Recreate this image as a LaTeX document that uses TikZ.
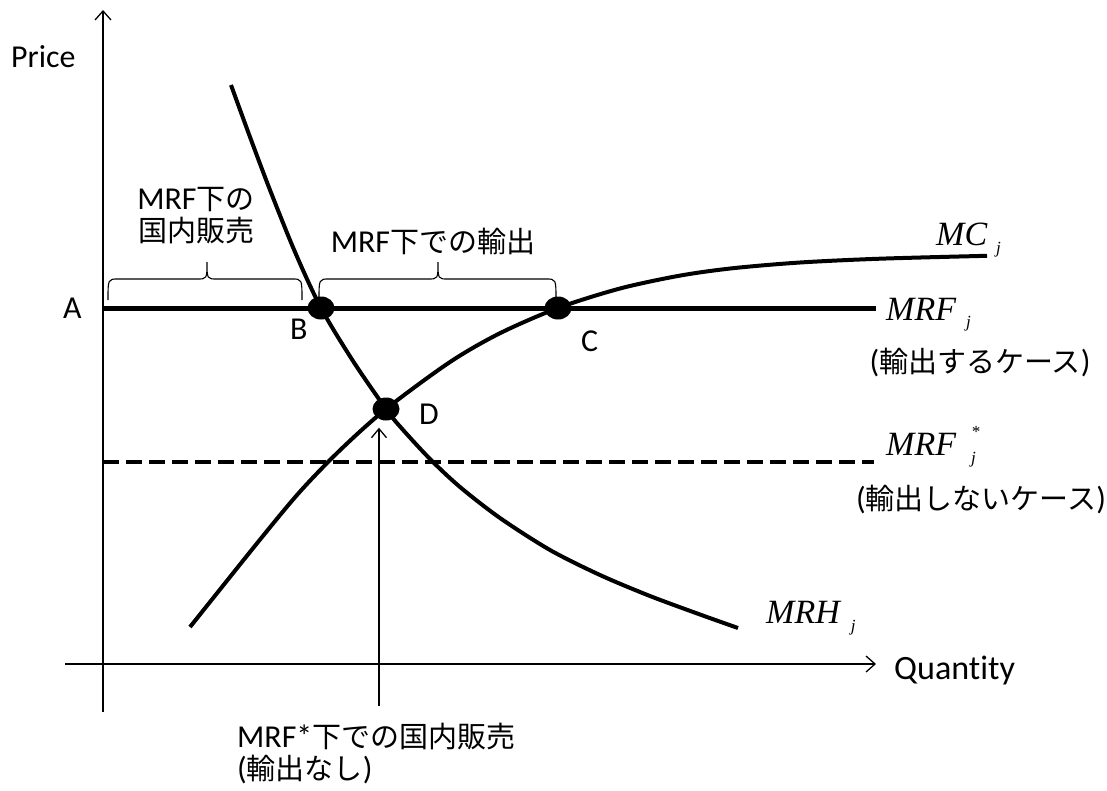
\documentclass[tikz,border=0pt]{standalone}
\usepackage{fontspec}
\setmainfont{Carlito}[Scale=1.1,Ligatures=NoCommon]
\newfontfamily\cjk{Noto Sans CJK JP}
\newfontfamily\tms{Liberation Serif}
\usetikzlibrary{arrows.meta,shapes.geometric}
\newcommand\jpt[1]{{\cjk #1}}
\newcommand\mitx[1]{{\tms\itshape #1}}
\newcommand\subx[1]{{\fontsize{17}{17}\selectfont\tms\itshape #1}}
\begin{document}
\begin{tikzpicture}[x=1pt,y=-1pt,
  lbl/.style={font=\fontsize{29}{32}\selectfont, inner sep=0pt},
  mlbl/.style={font=\fontsize{34}{36}\selectfont, inner sep=0pt},
  axisline/.style={line width=1.3pt, -{Straight Barb[length=9pt,width=16pt,line width=1.3pt]}},
  curveline/.style={line width=4pt, line cap=butt},
  priceline/.style={line width=5pt},
  dashline/.style={line width=4pt, dash pattern=on 16pt off 7pt},
  bracket/.style={line width=1.1pt},
  dot/.style={ellipse, fill=black, minimum width=27pt, minimum height=23pt, inner sep=0pt}]
\useasboundingbox (0,0) rectangle (1107,790);
% axes
\coordinate (xs) at (65,664);
\coordinate (xe) at (876,664);
\coordinate (ys) at (103,712);
\coordinate (ye) at (103,10);
\draw[axisline] (xs) -- (xe);
\draw[axisline] (ys) -- (ye);
% price lines
\coordinate (mrfs) at (103,308);
\coordinate (mrfe) at (876,308);
\draw[priceline] (mrfs) -- (mrfe);
\coordinate (mrfss) at (103,462);
\coordinate (mrfse) at (874,462);
\draw[dashline] (mrfss) -- (mrfse);
% curves
\draw[curveline] plot[smooth] coordinates {(231,85) (250,137) (270,190) (295,252) (321,308) (353,361) (386,409) (400,426.5) (430,459) (460,487) (500,518) (550,550) (600,575) (650,596) (700,614.5) (738,628)};
\draw[curveline] plot[smooth] coordinates {(190,627) (260,539.6) (300,491.6) (340,450.2) (386,409) (450,362) (500,333.2) (558,308) (620,288.5) (680,275.6) (733,268.2) (800,262.5) (880,258.7) (987,255.8)};
% dots
\node[dot] (pB) at (321,308) {};
\node[dot] (pC) at (558,308) {};
\node[dot] (pD) at (386,409) {};
% letters
\node[lbl, anchor=base west] (lA) at (63,318) {A};
\node[lbl, anchor=base west] (lB) at (290,339) {B};
\node[lbl, anchor=base west] (lC) at (581,351) {C};
\node[lbl, anchor=base west] (lD) at (419,424) {D};
% braces
\draw[bracket] (108,300) .. controls (108,279) .. (118,279) -- (197,279) .. controls (207,279) .. (207,262)
  .. controls (207,279) .. (217,279) -- (292,279) .. controls (302,279) .. (302,300);
\draw[bracket] (319,300) .. controls (319,279) .. (329,279) -- (428,279) .. controls (438,279) .. (438,262)
  .. controls (438,279) .. (448,279) -- (546,279) .. controls (556,279) .. (556,300);
\node[lbl, align=center] (dom) at (196,216) {MRF\jpt{下の}\\\jpt{国内販売}};
\node[lbl] (exp) at (433,241) {MRF\jpt{下での輸出}};
% axis labels
\node[lbl, anchor=base west] (price) at (11,67) {Price};
\node[lbl, anchor=base west, font=\fontsize{31}{32}\selectfont] (qty) at (894,679) {Quantity};
% curve labels
\node[mlbl, anchor=base west] (mc) at (936,245) {\mitx{MC}\hspace{9pt}\raisebox{-8pt}{\subx{j}}};
\node[mlbl, anchor=base west] (mrf) at (886,320) {\mitx{MRF}\hspace{10pt}\raisebox{-7pt}{\subx{j}}};
\node[lbl] (mrfcase) at (980,363) {(\jpt{輸出するケース})};
\node[mlbl, anchor=base west] (mrfst) at (886,455) {\mitx{MRF}\hspace{15pt}\rlap{\raisebox{-8pt}{\subx{j}}}\raisebox{18pt}{\subx{*}}};
\node[lbl] (mrfscase) at (981,500) {(\jpt{輸出しないケース})};
\node[mlbl, anchor=base west] (mrh) at (766,623) {\mitx{MRH}\hspace{11pt}\raisebox{-8pt}{\subx{j}}};
% bottom arrow and label
\coordinate (arrs) at (379,706);
\draw[line width=1.3pt, -{Straight Barb[length=9pt,width=15pt,line width=1.3pt]}] (arrs) -- ([yshift=-7pt]pD.south -| arrs);
\node[lbl, anchor=north west, align=left] (bot) at (237,723) {MRF*\jpt{下での国内販売}\\(\jpt{輸出なし})};
\end{tikzpicture}
\end{document}
